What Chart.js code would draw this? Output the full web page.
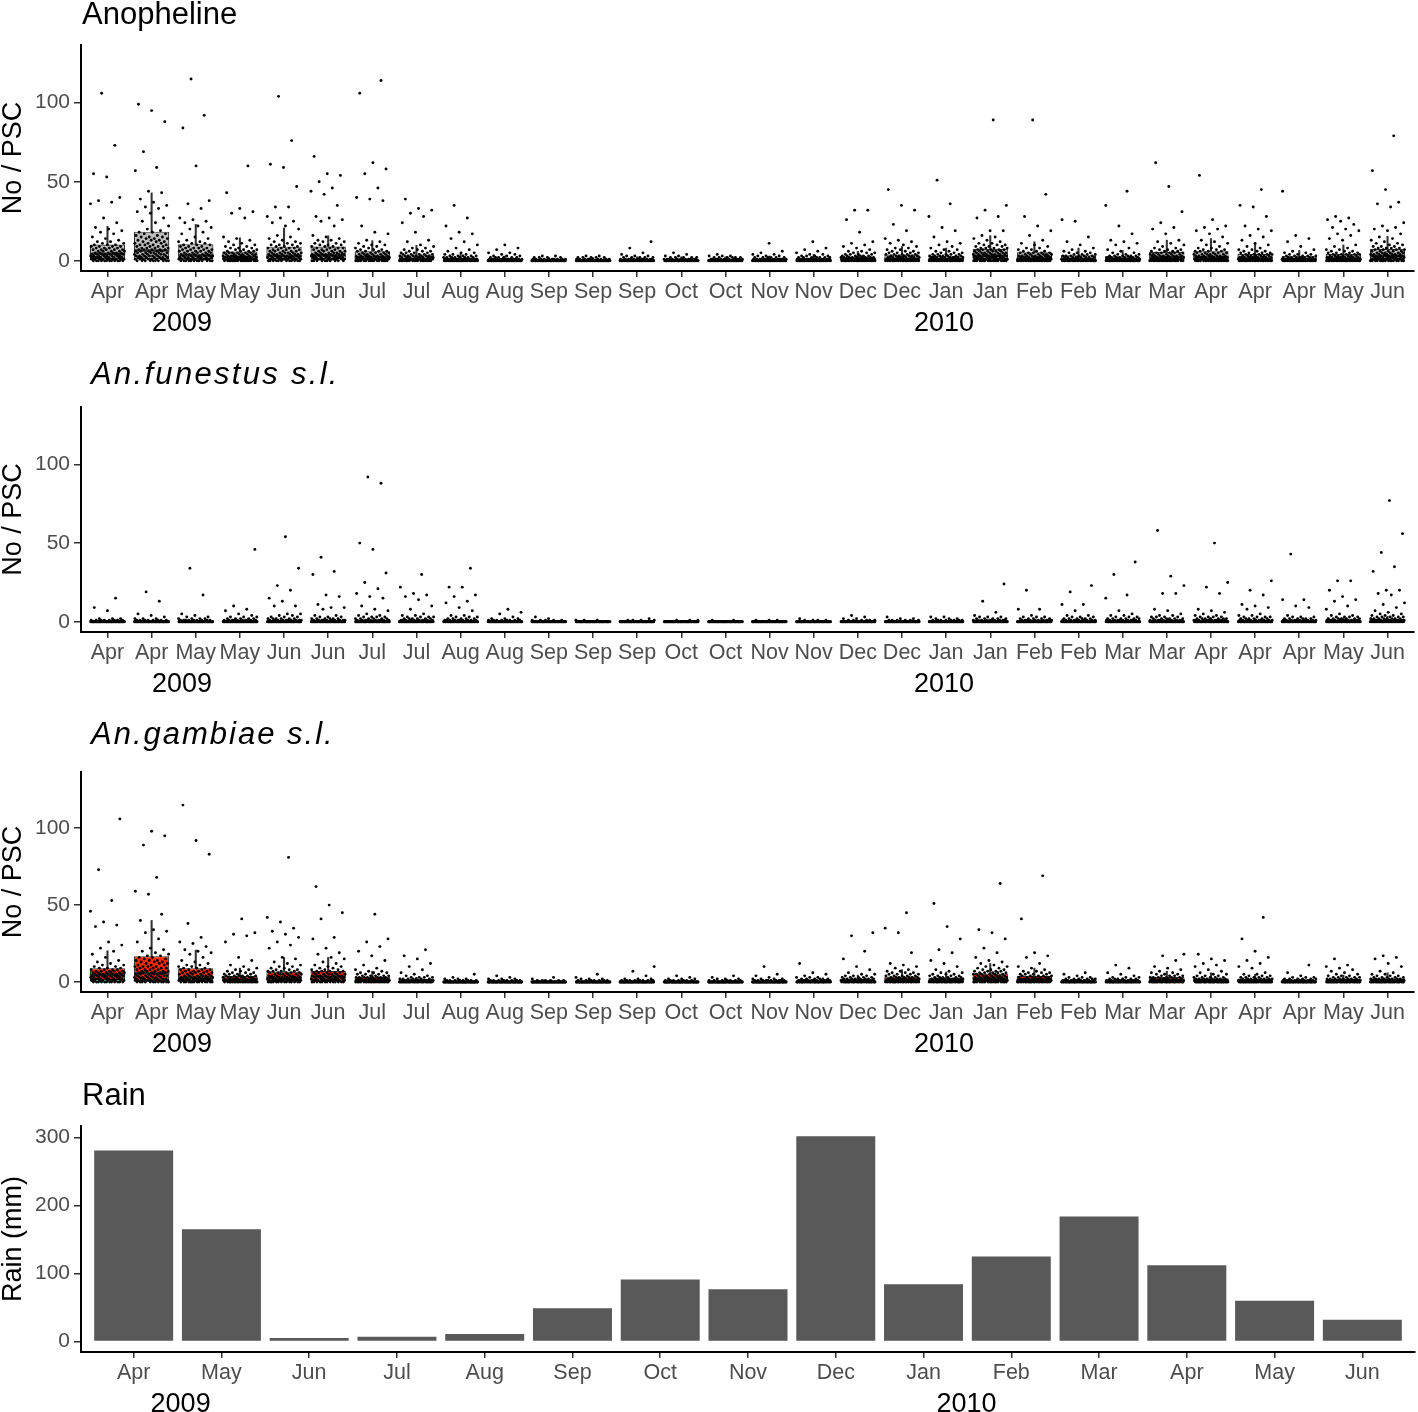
<!DOCTYPE html>
<html><head><meta charset="utf-8">
<script src="https://cdn.jsdelivr.net/npm/chart.js@4.4.1/dist/chart.umd.min.js"></script>
<style>
html,body{margin:0;padding:0;background:#fff;}
body{width:1418px;height:1412px;position:relative;overflow:hidden;}
canvas{position:absolute;left:0;}
</style></head><body>
<canvas id="c1" width="1418" height="360" style="top:-15px"></canvas>
<canvas id="c2" width="1418" height="359" style="top:347px"></canvas>
<canvas id="c3" width="1418" height="354" style="top:712px"></canvas>
<canvas id="c4" width="1418" height="360" style="top:1066px"></canvas>
<script>
// ---------- categories & tick labels ----------
const sampleLabels = ['Apr','Apr','May','May','Jun','Jun','Jul','Jul','Aug','Aug','Sep','Sep','Sep','Oct','Oct','Nov','Nov','Dec','Dec','Jan','Jan','Feb','Feb','Mar','Mar','Apr','Apr','Apr','May','Jun'];
const yearLabels = ['2009','2010'];
const sampleYearPos = [1.69, 18.95];
const rainMonths = ['Apr','May','Jun','Jul','Aug','Sep','Oct','Nov','Dec','Jan','Feb','Mar','Apr','May','Jun'];
const rainYearPos = [0.535, 9.49];
const countTicks = [0, 50, 100];
const rainTicks = [0, 100, 200, 300];

// ---------- Rain (mm) ----------
const rainMm = [281, 165, 5, 7, 11, 49, 91, 77, 302, 84, 125, 184, 112, 60, 32];

// ---------- Anopheline ----------
const anoQ1  = [1,1,1,0.5,1,1,0.5,0.3,0,0,0,0,0,0,0,0,0,0,0.3,0.2,0.8,0.3,0.2,0.2,0.5,0.5,0.3,0.2,0.3,1];
const anoMed = [4.4,6.5,3.4,2,3,3.5,2,1,0.5,0.3,0,0,0.2,0.2,0.2,0.3,0.5,1,1.2,1,3,1.5,1,1,2,2,1.5,1,1.5,3];
const anoQ3  = [10.2,18.4,10.5,5.8,8.9,9,6,4,1.9,1.2,0.8,0.8,1,1,1,1.3,1.6,2.5,3.9,3.2,7.5,5.3,3.4,2.7,5.6,6,4.2,2.8,4.2,7.5];
const anoLo  = [0,0,0,0,0,0,0,0,0,0,0,0,0,0,0,0,0,0,0,0,0,0,0,0,0,0,0,0,0,0];
const anoHi  = [21.8,42.9,23,14.5,20.7,15.8,12.7,9.7,4.5,3,2,2,2.5,2.5,2.5,3,4,6,9,8,15.9,12,8,6.5,13,14,10.5,6.5,10,15.5];
const anoObs = [
 "0*12 1*10 2*9 3*8 4*8 5*6 6*5 7*5 8*4 9*4 10*3 11*2 12*2 13 14 15 17 18 19 20 21 24 27 36 37 38 40 53 55 73 106",
 "0*10 1*8 2*7 3*7 4*6 5*6 6*5 7*5 8*4 9*4 10*4 11*3 12*3 13*3 14*3 15*3 16*2 17*2 18*2 19 20 22 24 25 27 30 31 33 34 35 37 39 43 44 57 59 69 88 95 99",
 "0*12 1*10 2*8 3*7 4*6 5*5 6*5 7*4 8*4 9*3 10*3 11*2 12*2 13 14 15 17 18 20 21 22 24 25 26 27 33 36 38 60 84 92 115",
 "0*18 1*14 2*11 3*9 4*7 5*6 6*4 7*3 8*3 9*2 10*2 11 12 13 14 15 27 30 31 33 43 60",
 "0*12 1*10 2*9 3*8 4*7 5*6 6*5 7*4 8*4 9*3 10*3 11*2 12*2 13 14 15 16 20 22 24 25 27 28 34 34 47 59 61 76 104",
 "0*10 1*10 2*9 3*8 4*7 5*6 6*5 7*4 8*4 9*3 10*3 11*2 12*2 13*2 14 15 16 22 25 26 27 28 35 42 44 46 50 54 55 66",
 "0*16 1*12 2*10 3*8 4*6 5*5 6*4 7*3 8*2 9*2 10*2 11 12 13 17 18 22 38 39 40 46 55 58 62 106 114",
 "0*18 1*14 2*10 3*8 4*5 5*4 6*3 7*2 8*2 9 10 12 13 18 24 28 30 32 33 39",
 "0*30 1*16 2*8 3*5 4*3 5*2 6 7 8 10 12 14 17 18 22 27 35",
 "0*35 1*14 2*6 3*3 4*2 5 5 7 8 10",
 "0*40 1*10 2*4 3*2",
 "0*40 1*10 2*5 3*2",
 "0*35 1*12 2*5 3*3 4 5 8 12",
 "0*38 1*12 2*5 3*2 4 5",
 "0*38 1*12 2*6 3*3 4",
 "0*35 1*14 2*6 3*3 4*2 5 6 11",
 "0*32 1*14 2*7 3*4 4*2 5 6 7 8 12",
 "0*25 1*14 2*9 3*6 4*4 5*3 6*2 7 8 9 10 11 12 18 26 32 32",
 "0*22 1*14 2*10 3*7 4*5 5*4 6*3 7*2 8*2 9 10 11 12 13 14 19 23 32 35 45",
 "0*24 1*14 2*10 3*7 4*5 5*3 6*2 7*2 8 9 10 11 12 15 19 21 28 36 51",
 "0*18 1*12 2*10 3*9 4*8 5*7 6*6 7*5 8*4 9*3 10*3 11*2 12 13 14 15 16 19 19 27 28 32 35 89",
 "0*22 1*14 2*10 3*8 4*6 5*5 6*3 7*2 8*2 9 10 11 13 16 19 22 28 42 89",
 "0*26 1*14 2*9 3*6 4*4 5*3 6*2 7 8 10 12 15 25 26",
 "0*28 1*14 2*9 3*6 4*3 5*2 6 7 8 10 11 12 13 17 22 35 44",
 "0*20 1*13 2*10 3*8 4*6 5*5 6*4 7*3 8*2 9 10 11 12 13 17 20 21 24 31 47 62",
 "0*20 1*13 2*10 3*8 4*6 5*5 6*4 7*3 8*2 9 10 11 12 13 15 17 19 20 21 22 26 54",
 "0*22 1*14 2*10 3*7 4*5 5*4 6*3 7*2 8 9 10 11 13 15 16 19 20 22 28 34 35 45",
 "0*28 1*14 2*9 3*5 4*3 5*2 6 7 9 12 14 16 44",
 "0*24 1*14 2*10 3*7 4*5 5*4 6*3 7*2 8 9 10 13 14 16 17 19 20 21 23 25 26 27 28",
 "0*16 1*12 2*10 3*9 4*8 5*6 6*5 7*4 8*4 9*3 10*2 11*2 12 13 14 15 17 19 20 21 22 24 34 36 37 45 57 79"
];

// ---------- An.funestus s.l. ----------
const funQ1  = [0,0,0,0,0,0,0,0,0,0,0,0,0,0,0,0,0,0,0,0,0,0,0,0,0,0,0,0,0,0];
const funMed = [0,0,0,0,0,0,0,0,0,0,0,0,0,0,0,0,0,0,0,0,0,0,0,0,0,0,0,0,0,0.5];
const funQ3  = [0,0,0,0,0.3,0.3,0.5,0.5,0.3,0,0,0,0,0,0,0,0,0,0,0.2,0.5,0.5,0.5,0.5,0.8,1,0.8,0.5,1,1.5];
const funLo  = [0,0,0,0,0,0,0,0,0,0,0,0,0,0,0,0,0,0,0,0,0,0,0,0,0,0,0,0,0,0];
const funHi  = [0,0,0,0,0.8,0.8,1.2,1.2,0.8,0,0,0,0,0,0,0,0,0,0,0.5,1.2,1.2,1.2,1.2,2,2.5,2,1.2,2.5,3.5];
const funObs = [
 "0*60 1*8 2*3 7 9 15",
 "0*60 1*8 2*3 3 4 5 13 19",
 "0*58 1*9 2*4 3*2 4 5 17 34",
 "0*55 1*10 2*5 3*3 4 5 7 8 10 46",
 "0*50 1*10 2*6 3*3 4*2 5*2 10 10 13 15 20 23 34 54",
 "0*50 1*10 2*6 3*3 4*2 8 9 9 11 16 17 30 32 41",
 "0*50 1*10 2*6 3*4 4*2 5 7 8 10 15 16 18 21 25 31 46 50 88 92",
 "0*50 1*10 2*6 3*4 4*2 5 8 10 14 16 17 18 22 30",
 "0*50 1*10 2*5 3*3 4*2 7 9 12 13 16 17 22 22 34",
 "0*55 1*8 2*3 3 5 6 8",
 "0*60 1*5 2 3",
 "0*62 1*3",
 "0*62 1*4 2",
 "0*62 1*3",
 "0*62 1*2",
 "0*62 1*3",
 "0*60 1*4 2",
 "0*58 1*6 2*2 3 4",
 "0*58 1*6 2*2 3",
 "0*55 1*8 2*3 3*2",
 "0*50 1*10 2*5 3*3 4 6 13 24",
 "0*50 1*10 2*5 3*3 4 8 8 20",
 "0*48 1*10 2*6 3*3 4*2 7 11 11 19 23",
 "0*48 1*10 2*6 3*3 4*2 5 7 15 17 30 38",
 "0*45 1*10 2*6 3*4 4*2 5 7 8 18 18 23 29 58",
 "0*42 1*12 2*7 3*4 4*2 5 6 7 8 18 22 25 50",
 "0*45 1*10 2*6 3*4 4*2 5 8 9 10 11 17 20 26",
 "0*45 1*10 2*6 3*3 4 9 10 14 14 43",
 "0*42 1*12 2*7 3*4 4*2 5 8 10 13 14 16 20 26 26",
 "0*35 1*12 2*8 3*5 4*3 5*2 6 7 9 11 12 17 18 20 20 32 35 44 56 77"
];

// ---------- An.gambiae s.l. ----------
const gamQ1  = [1.1,0.7,0.5,0.3,0.5,0.7,0.2,0,0,0,0,0,0,0,0,0,0,0,0.2,0.1,0.5,0.2,0,0,0.1,0.1,0,0,0,0.1];
const gamMed = [4.6,5.7,2.8,1.1,2.8,3.5,1,0.3,0,0,0,0,0,0,0,0,0.2,0.5,1.5,1,2.5,1.5,0.3,0.3,1,0.8,0.5,0.2,0.6,0.8];
const gamQ3  = [9,16.8,9,3.9,6.8,7.2,3.3,1.1,0.4,0.3,0.2,0.3,0.4,0.3,0.3,0.5,0.8,1.8,3.5,2.8,5.5,4,1,1,3.2,2.5,2.2,0.9,2,2.5];
const gamLo  = [0,0,0,0,0,0,0,0,0,0,0,0,0,0,0,0,0,0,0,0,0,0,0,0,0,0,0,0,0,0];
const gamHi  = [20.3,40,20.8,9,16,16,7,3,1,0.8,0.5,0.8,1,0.8,0.8,1.2,2,4.5,8,6.5,12,9,2.5,2.5,7,6,5,2,4.5,6];
const gamObs = [
 "0*12 1*10 2*9 3*8 4*8 5*7 6*6 7*5 8*4 9*3 10*2 11*2 12 13 14 16 18 20 22 24 26 36 37 39 46 53 73 106",
 "0*12 1*10 2*8 3*7 4*6 5*6 6*5 7*5 8*4 9*4 10*4 11*3 12*3 13*3 14*3 15*2 16*2 17*2 18 19 20 21 22 26 28 32 33 34 40 44 57 59 68 89 95 98",
 "0*14 1*11 2*9 3*7 4*6 5*5 6*5 7*4 8*4 9*3 10*2 11*2 12 13 14 16 18 19 20 21 23 25 26 29 38 83 92 115",
 "0*20 1*15 2*10 3*8 4*6 5*4 6*3 7*2 8*2 9 10 11 14 16 26 30 31 32 41",
 "0*14 1*11 2*9 3*8 4*7 5*6 6*5 7*4 8*3 9*2 10*2 11 12 13 15 16 22 24 26 29 31 33 35 39 42 81",
 "0*13 1*10 2*9 3*8 4*7 5*6 6*5 7*4 8*3 9*2 10*2 11 12 13 15 16 18 19 22 28 29 41 45 50 62",
 "0*20 1*14 2*10 3*8 4*5 5*3 6*3 7*2 8 9 11 14 17 20 23 26 28 44",
 "0*30 1*14 2*7 3*4 4*2 5 6 8 10 12 15 17 21",
 "0*50 1*8 2*3 3 5",
 "0*50 1*8 2*3 3 4",
 "0*55 1*6 2 3",
 "0*52 1*7 2*3 3 5",
 "0*50 1*8 2*3 4 7 10",
 "0*52 1*7 2*3 3 4",
 "0*52 1*7 2*3 3 4",
 "0*48 1*10 2*4 3 4 5 10",
 "0*40 1*12 2*6 3*3 4 5 6 12",
 "0*30 1*14 2*8 3*5 4*3 5*2 6 8 10 15 20 30 32",
 "0*22 1*14 2*10 3*7 4*5 5*4 6*3 7*2 8 9 10 11 12 19 32 35 45",
 "0*25 1*14 2*9 3*6 4*4 5*3 6*2 7 8 10 12 14 19 21 28 36 51",
 "0*18 1*12 2*10 3*8 4*7 5*6 6*5 7*4 8*3 9*2 10*2 11 12 13 14 16 19 22 28 32 34 64",
 "0*22 1*14 2*10 3*7 4*5 5*4 6*3 7*2 8 9 10 12 16 17 19 41 69",
 "0*40 1*12 2*6 3*3 4 5 6",
 "0*40 1*12 2*6 3*3 4 5 6 9 11",
 "0*28 1*14 2*9 3*6 4*4 5*3 6*2 7 8 9 10 14 17 18",
 "0*30 1*14 2*8 3*5 4*3 5*2 6 7 8 10 11 12 14 15 18",
 "0*32 1*14 2*8 3*5 4*3 5*2 6 9 10 12 14 16 20 28 42",
 "0*42 1*12 2*6 3*3 4 6 11",
 "0*32 1*14 2*8 3*5 4*3 5*2 6 7 8 9 10 11 15",
 "0*30 1*14 2*8 3*5 4*3 5*2 6 7 10 12 15 16 17"
];

// ---------- helpers ----------
const FONT = '"Liberation Sans", Arial, Helvetica, sans-serif';

function expand(str) {
  const out = [];
  str.trim().split(/\s+/).forEach(t => {
    const parts = t.split('*');
    const c = parts[1] ? +parts[1] : 1;
    for (let k = 0; k < c; k++) out.push(+parts[0]);
  });
  return out;
}
// horizontal jitter spread (deterministic) inside each category band
function jitterPoints(obs) {
  const pts = [];
  obs.forEach((s, i) => {
    expand(s).forEach((v, k) => {
      const f = ((k + 1) * 0.6180339887 + i * 0.37) % 1;
      pts.push({ x: i + (f - 0.5) * 0.78, y: v });
    });
  });
  return pts;
}

const panelTitle = {
  id: 'panelTitle',
  afterDraw(chart, args, opts) {
    const { ctx, chartArea } = chart;
    ctx.save();
    ctx.font = opts.font;
    ctx.fillStyle = '#000';
    ctx.textBaseline = 'alphabetic';
    ctx.textAlign = 'left';
    if (opts.spacing) ctx.letterSpacing = opts.spacing;
    ctx.fillText(opts.text, chartArea.left + opts.dx, chartArea.top - opts.dy);
    ctx.restore();
  }
};

function xScales(labels, yearPos) {
  const n = labels.length;
  return {
    x: {
      type: 'linear', min: -0.6, max: n - 0.4, bounds: 'data', offset: false, weight: 0,
      afterBuildTicks: s => { s.ticks = labels.map((_, i) => ({ value: i })); },
      afterFit: s => { s.height = 36; },
      ticks: { autoSkip: false, maxRotation: 0, minRotation: 0, color: '#4D4D4D',
               font: { family: FONT, size: 21.5 }, padding: 2, callback: (v, i) => labels[i] },
      grid: { display: true, drawOnChartArea: false, drawTicks: true, tickLength: 6,
              color: '#333', lineWidth: 1.5, offset: false },
      border: { display: true, color: '#000', width: 2 }
    },
    x2: {
      type: 'linear', position: 'bottom', min: -0.6, max: n - 0.4, bounds: 'data', offset: false, weight: 1,
      afterBuildTicks: s => { s.ticks = yearPos.map(v => ({ value: v })); },
      afterFit: s => { s.height = 38; },
      ticks: { autoSkip: false, maxRotation: 0, minRotation: 0, color: '#000',
               font: { family: FONT, size: 27 }, padding: 0, callback: (v, i) => yearLabels[i] },
      grid: { display: false, drawTicks: false },
      border: { display: false }
    }
  };
}

function yScale(min, max, ticks, title) {
  return {
    type: 'linear', min: min, max: max, bounds: 'data',
    afterBuildTicks: s => { s.ticks = ticks.map(v => ({ value: v })); },
    afterFit: s => { s.width = 81; },
    ticks: { color: '#4D4D4D', font: { family: FONT, size: 21 }, padding: 4 },
    grid: { display: true, drawOnChartArea: false, drawTicks: true, tickLength: 7, color: '#333', lineWidth: 1.5 },
    border: { display: true, color: '#000', width: 2 },
    title: { display: true, text: title, color: '#000', font: { family: FONT, size: 27, lineHeight: 1 },
             padding: { top: 0, bottom: 0 } }
  };
}

function boxChart(id, t, q1, med, q3, lo, hi, obs, fill) {
  const boxData = q1.map((v, i) => ({ x: i, y: [v, q3[i]] }));
  const upper = q3.map((v, i) => ({ x: i, y: [v, hi[i]] }));
  const lower = q1.map((v, i) => ({ x: i, y: [lo[i], v] }));
  const meds = med.map((v, i) => ({ x: i, y: v }));
  const halfBox = ctx => {
    const xs = ctx.chart.scales.x;
    return Math.abs(xs.getPixelForValue(0.4) - xs.getPixelForValue(0));
  };
  const whisker = { type: 'bar', backgroundColor: '#333', borderWidth: 0, barThickness: 1.4, grouped: false, order: 3 };
  return new Chart(document.getElementById(id), {
    type: 'bar',
    data: {
      datasets: [
        Object.assign({ data: upper }, whisker),
        Object.assign({ data: lower }, whisker),
        { type: 'bar', data: boxData, backgroundColor: fill, borderColor: '#333', borderWidth: 1.2,
          borderSkipped: false, barPercentage: 0.8, categoryPercentage: 1, grouped: false, order: 2 },
        { type: 'scatter', data: meds, pointStyle: 'line', radius: halfBox, borderColor: '#333',
          borderWidth: 2.4, showLine: false, order: 1 },
        { type: 'scatter', data: jitterPoints(obs), pointStyle: 'circle', radius: 1.45,
          backgroundColor: '#000', borderWidth: 0, showLine: false, order: 0 }
      ]
    },
    options: {
      responsive: false, animation: false, events: [],
      layout: { padding: { top: 60, right: 3, bottom: 0, left: 0 } },
      plugins: { legend: { display: false }, tooltip: { enabled: false }, panelTitle: t },
      scales: Object.assign(xScales(sampleLabels, sampleYearPos),
                            { y: yScale(-6.5, 136.5, countTicks, 'No / PSC') })
    },
    plugins: [panelTitle]
  });
}

boxChart('c1', { text: 'Anopheline', font: '31px ' + FONT, dx: 1, dy: 20.7 },
  anoQ1, anoMed, anoQ3, anoLo, anoHi, anoObs, '#BEBEBE');
boxChart('c2', { text: 'An.funestus s.l.', font: 'italic 31px ' + FONT, dx: 10, dy: 23.4, spacing: '2.3px' },
  funQ1, funMed, funQ3, funLo, funHi, funObs, '#2233CC');
boxChart('c3', { text: 'An.gambiae s.l.', font: 'italic 31px ' + FONT, dx: 10, dy: 28.3, spacing: '2px' },
  gamQ1, gamMed, gamQ3, gamLo, gamHi, gamObs, '#FF2A00');

new Chart(document.getElementById('c4'), {
  type: 'bar',
  data: {
    datasets: [{
      data: rainMm.map((v, i) => ({ x: i, y: v })),
      backgroundColor: '#595959', borderWidth: 0, barPercentage: 0.9, categoryPercentage: 1
    }]
  },
  options: {
    responsive: false, animation: false, events: [],
    layout: { padding: { top: 60, right: 3, bottom: 0, left: 0 } },
    plugins: { legend: { display: false }, tooltip: { enabled: false },
               panelTitle: { text: 'Rain', font: '31px ' + FONT, dx: 1, dy: 20.7 } },
    scales: Object.assign(xScales(rainMonths, rainYearPos),
                          { y: yScale(-15.5, 317, rainTicks, 'Rain (mm)') })
  },
  plugins: [panelTitle]
});
</script>
</body></html>
